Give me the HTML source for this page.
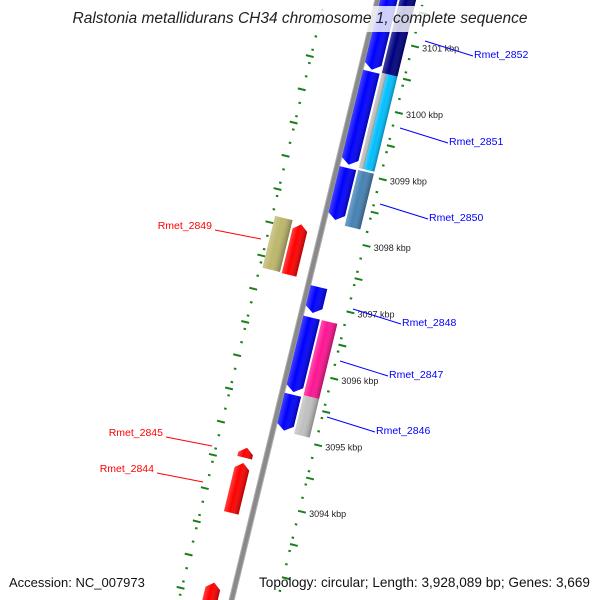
<!DOCTYPE html>
<html><head><meta charset="utf-8">
<style>
html,body{margin:0;padding:0;background:#fff;overflow:hidden;}
svg{display:block;font-family:"Liberation Sans",sans-serif;overflow:hidden;}
</style></head>
<body>
<svg id="chart" width="600" height="600" viewBox="0 0 600 600" xmlns="http://www.w3.org/2000/svg">
<defs>
<linearGradient id="shade" x1="0" y1="0" x2="1" y2="0">
<stop offset="0" stop-color="#fff" stop-opacity="0.25"/>
<stop offset="0.4" stop-color="#fff" stop-opacity="0"/>
<stop offset="1" stop-color="#000" stop-opacity="0.3"/>
</linearGradient>
</defs>
<g id="map" transform="translate(395,112) rotate(13.66)"></g>
<g id="labels"></g>
<rect x="0" y="6" width="600" height="26" fill="#fff" fill-opacity="0.8"/>
<text x="300" y="23" text-anchor="middle" font-size="15.5" font-style="italic" fill="#222">Ralstonia metallidurans CH34 chromosome 1, complete sequence</text>
<text x="9" y="587" font-size="13" fill="#111">Accession: NC_007973</text>
<text x="590" y="587" text-anchor="end" font-size="13.6" fill="#111">Topology: circular; Length: 3,928,089 bp; Genes: 3,669</text>
</svg>
<script>
// ---- data ----
const geneNames = ['Rmet_2852','Rmet_2851','Rmet_2850','Rmet_2848','Rmet_2847','Rmet_2846','Rmet_2849','Rmet_2845','Rmet_2844','Rmet_2843'];
const geneStarts = [3100.52,3099.09,3098.26,3096.86,3095.67,3095.09,3097.32,3094.57,3093.74,3092.3];
const geneEnds   = [3101.9,3100.49,3099.04,3097.25,3096.79,3095.63,3098.08,3094.72,3094.49,3092.69];
const geneStrand = [-1,-1,-1,-1,-1,-1,1,1,1,1];
const featNames  = ['navy-feature','gray-feature','cyan-feature','steelblue-feature','pink-feature','silver-feature','khaki-feature'];
const featStarts = [3100.51,3099.08,3099.08,3098.21,3095.66,3095.08,3097.33];
const featEnds   = [3101.9,3100.51,3100.51,3099.05,3096.79,3095.66,3098.11];
const featColors = ['#000080','#c0c0c0','#00bfff','#4682b4','#ff1493','#c0c0c0','#bdb76b'];
const featTrack  = [2,21,22,2,2,2,-2];
const tickLabels = ['3094 kbp','3095 kbp','3096 kbp','3097 kbp','3098 kbp','3099 kbp','3100 kbp','3101 kbp'];
const tickValues = [3094,3095,3096,3097,3098,3099,3100,3101];
const labelX = [474,449,429,402,389,376,212,163,154,0];
const labelY = [54,141,217,322,374,430,225,432,468,0];

// ---- scales ----
const NS='http://www.w3.org/2000/svg';
const KREF=3100, PX=68.4, ANG=13.66*Math.PI/180;
function yScale(k){return (KREF-k)*PX;}
function toScreen(lx,ly){return [395+lx*Math.cos(ANG)-ly*Math.sin(ANG),112+lx*Math.sin(ANG)+ly*Math.cos(ANG)];}
const tracks={1:[-41,-24],'-1':[-72,-57],2:[-22,-6],21:[-22,-17],22:[-17,-6],'-2':[-92,-74]};
const map=document.getElementById('map'), labG=document.getElementById('labels');
function mk(tag,attrs,parent){const e=document.createElementNS(NS,tag);for(const k in attrs)e.setAttribute(k,attrs[k]);parent.appendChild(e);return e;}

// backbone
const bb=mk('rect',{x:-46,y:yScale(3103),width:5,height:yScale(3091.3)-yScale(3103),fill:'#8a8a8a',stroke:'#b0b0b0','stroke-width':1},map);



// tick lines
[0,-96].forEach((base,si)=>{
  for(let i=0;i<=110;i++){
    const k=3091.5+i*0.1;const r=Math.round(k*10);
    const major=r%5===0;
    if(!major && r%2!==0) continue;
    const y=yScale(k);
    const len=major?8:2.5;
    const x=si===0?base:base-(major?4:0);
    const t=mk('rect',{x:x,y:y-1,width:len,height:2,fill:'#1a7f1a'},map);
    
    
  }
});
tickLabels.forEach((lab,i)=>{
  const p=toScreen(0,yScale(tickValues[i]));
  const t=mk('text',{x:p[0]+11,y:p[1]+6,'font-size':9,fill:'#222'},labG);
  t.textContent=lab;
  
  
});

// features
featNames.forEach((n,i)=>{
  const tr=tracks[featTrack[i]];const ya=yScale(featEnds[i]),yb=yScale(featStarts[i]);
  const r=mk('rect',{x:tr[0],y:ya,width:tr[1]-tr[0],height:yb-ya,fill:featColors[i]},map);
  
  
  mk('rect',{x:tr[0],y:ya,width:tr[1]-tr[0],height:yb-ya,fill:'url(#shade)'},map);
});

// genes
geneNames.forEach((n,i)=>{
  const tr=tracks[geneStrand[i]>0?-1:1];const x0=tr[0],x1=tr[1],xm=(x0+x1)/2;
  const ya=yScale(geneEnds[i]),yb=yScale(geneStarts[i]);const h=Math.min(6,(yb-ya));
  let pts;
  if(geneStrand[i]<0)pts=[[x0,ya],[x1,ya],[x1,yb-h],[xm,yb],[x0,yb-h]];
  else pts=[[x0,ya+h],[xm,ya],[x1,ya+h],[x1,yb],[x0,yb]];
  const col=geneStrand[i]<0?'#0000ff':'#ff0000';
  const s=pts.map(p=>p.join(',')).join(' ');
  const g=mk('polygon',{points:s,fill:col},map);
  
  
  mk('polygon',{points:s,fill:'url(#shade)'},map);
  if(labelX[i]>0){
    const right=geneStrand[i]<0;
    let a;
    if(right) a={x1:labelX[i]-49,y1:labelY[i]-13,x2:labelX[i]-1,y2:labelY[i]+2};
    else a={x1:labelX[i]+3,y1:labelY[i]+5,x2:labelX[i]+49,y2:labelY[i]+14};
    a.stroke=right?'#0000ff':'#ff0000';a['stroke-width']=1;
    const ln=mk('line',a,labG);
    
    
    const t=mk('text',{x:labelX[i],y:labelY[i]+4,'font-size':10.5,fill:right?'#0000ff':'#ff0000','text-anchor':right?'start':'end'},labG);
    t.textContent=n;
    
    
  }
});
</script>
</body></html>
